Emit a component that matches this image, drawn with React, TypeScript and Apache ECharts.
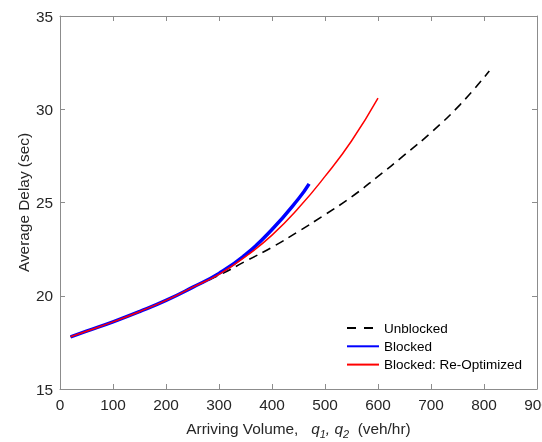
import React, { useEffect, useRef } from "react";
import * as echarts from "echarts";

const unblockedX = [20, 50, 100, 150, 200, 250, 300, 350, 400, 450, 500, 550, 600, 650, 700, 755, 810];
const unblockedY = [17.8, 18.1, 18.6, 19.15, 19.75, 20.45, 21.1, 21.85, 22.6, 23.45, 24.35, 25.3, 26.4, 27.55, 28.75, 30.25, 32.05];
const blockedX = [20, 50, 100, 150, 200, 250, 300, 350, 400, 450, 470];
const blockedY = [17.8, 18.1, 18.6, 19.15, 19.75, 20.45, 21.2, 22.2, 23.55, 25.2, 26.0];
const reoptX = [20, 50, 100, 150, 200, 250, 300, 350, 400, 450, 500, 550, 600];
const reoptY = [17.8, 18.1, 18.6, 19.15, 19.75, 20.45, 21.15, 22.1, 23.25, 24.7, 26.4, 28.3, 30.6];

const seriesNames = ["Unblocked", "Blocked", "Blocked: Re-Optimized"];

const FONT = "'Liberation Sans', Arial, sans-serif";
const AXIS_GRAY = "#8c8c8c";
const TEXT = "#262626";

const zip = (xs: number[], ys: number[]) => xs.map((x, i) => [x, ys[i]]);

export default function App() {
  const ref = useRef<HTMLDivElement>(null);
  useEffect(() => {
    if (!ref.current) return;
    const chart = echarts.init(ref.current, undefined, { renderer: "svg" });
    const axisCommon = {
      axisLine: { show: true, onZero: false, lineStyle: { color: AXIS_GRAY, width: 1 } },
      axisTick: { show: true, inside: true, length: 5, lineStyle: { color: AXIS_GRAY } },
      splitLine: { show: false },
    };
    chart.setOption({
      animation: false,
      textStyle: { fontFamily: FONT },
      grid: { left: 60, top: 16, right: 5, bottom: 53, containLabel: false, outerBoundsMode: "none" },
      legend: {
        orient: "vertical",
        left: 346,
        top: 321,
        padding: 0,
        itemWidth: 32,
        itemHeight: 14,
        itemGap: 4.3,
        itemStyle: { opacity: 0 },
        textStyle: { fontFamily: FONT, fontSize: 13.5, color: "#000" },
        data: [
          { name: seriesNames[0], lineStyle: { type: [9, 8] } },
          { name: seriesNames[1] },
          { name: seriesNames[2] },
        ],
      },
      xAxis: [
        {
          type: "value",
          min: 0,
          max: 900,
          interval: 100,
          ...axisCommon,
          axisLabel: { show: true, color: TEXT, fontSize: 15.4, fontFamily: FONT, margin: 8 },
          name: "Arriving Volume,   {i|q}{s|1}{i|,} {i|q}{s|2}  (veh/hr)",
          nameLocation: "middle",
          nameGap: 28,
          nameTextStyle: {
            color: TEXT,
            fontSize: 15.4,
            fontFamily: FONT,
            lineHeight: 22,
            rich: {
              i: { fontStyle: "italic", fontSize: 15.4, fontFamily: FONT, color: TEXT, lineHeight: 22 },
              s: { fontStyle: "italic", fontSize: 11, fontFamily: FONT, color: TEXT, lineHeight: 12, verticalAlign: "bottom" },
            },
          },
        },
        {
          type: "value",
          position: "top",
          min: 0,
          max: 900,
          interval: 100,
          ...axisCommon,
          axisLabel: { show: false },
        },
      ],
      yAxis: [
        {
          type: "value",
          min: 15,
          max: 35,
          interval: 5,
          ...axisCommon,
          axisLabel: { show: true, color: TEXT, fontSize: 15.4, fontFamily: FONT, margin: 7 },
          name: "Average Delay (sec)",
          nameLocation: "middle",
          nameGap: 29,
          nameMoveOverlap: false,
          nameTextStyle: { color: TEXT, fontSize: 15.4, fontFamily: FONT },
        },
        {
          type: "value",
          position: "right",
          min: 15,
          max: 35,
          interval: 5,
          ...axisCommon,
          axisLabel: { show: false },
        },
      ],
      series: [
        {
          name: seriesNames[0],
          type: "line",
          data: zip(unblockedX, unblockedY),
          smooth: true,
          symbol: "none",
          lineStyle: { color: "#000", width: 1.6, type: [9, 6] },
          itemStyle: { color: "#000" },
          z: 2,
        },
        {
          name: seriesNames[1],
          type: "line",
          data: zip(blockedX, blockedY),
          smooth: true,
          symbol: "none",
          lineStyle: { color: "#0000ff", width: 3.5 },
          itemStyle: { color: "#0000ff" },
          z: 3,
        },
        {
          name: seriesNames[2],
          type: "line",
          data: zip(reoptX, reoptY),
          smooth: true,
          symbol: "none",
          lineStyle: { color: "#ff0000", width: 1.5 },
          itemStyle: { color: "#ff0000" },
          z: 4,
        },
      ],
    });
    return () => chart.dispose();
  }, []);
  return <div ref={ref} style={{ position: "fixed", left: 0, top: 0, width: 542, height: 442 }} />;
}
